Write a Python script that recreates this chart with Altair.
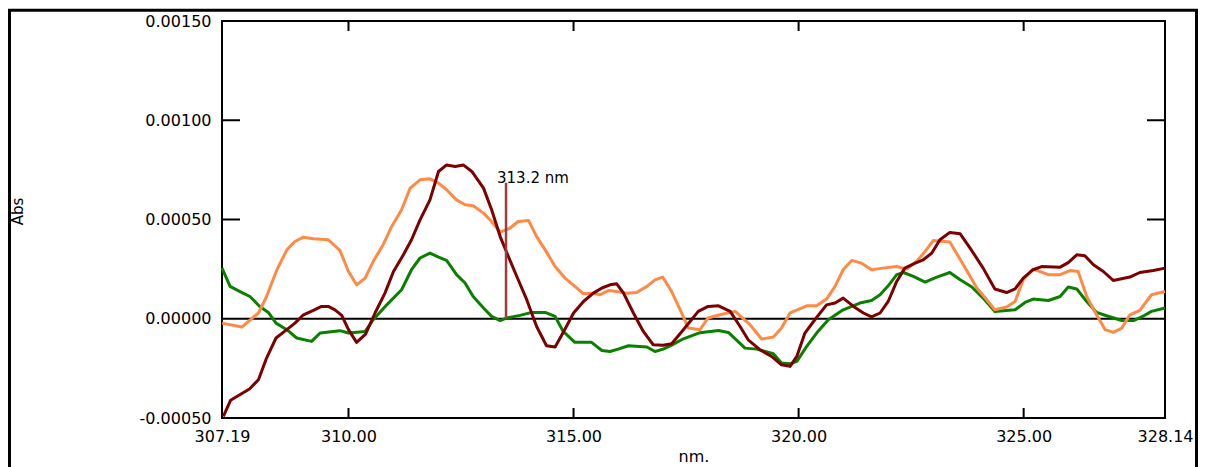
import altair as alt
import pandas as pd

# ---- data ----
maroon_nm = [307.22, 307.38, 307.80, 308.00, 308.18, 308.39, 308.63, 308.81, 309.00, 309.22,
             309.40, 309.55, 309.70, 309.85, 310.00, 310.18, 310.38, 310.59, 310.81, 311.00,
             311.22, 311.40, 311.59, 311.81, 312.00, 312.18, 312.37, 312.55, 312.74, 313.00,
             313.18, 313.37, 313.52, 313.74, 313.96, 314.18, 314.40, 314.59, 314.77, 315.00,
             315.22, 315.44, 315.63, 315.81, 315.96, 316.11, 316.33, 316.55, 316.77, 316.99,
             317.18, 317.44, 317.77, 317.99, 318.22, 318.48, 318.70, 318.88, 319.14, 319.40,
             319.62, 319.81, 319.96, 320.14, 320.36, 320.62, 320.81, 320.99, 321.22, 321.44,
             321.62, 321.81, 321.99, 322.18, 322.36, 322.59, 322.77, 322.96, 323.14, 323.36,
             323.59, 323.81, 324.10, 324.36, 324.62, 324.81, 324.99, 325.21, 325.40, 325.81,
             325.99, 326.18, 326.36, 326.55, 326.77, 326.99, 327.36, 327.58, 327.88, 328.14]
maroon_abs = [-0.000492, -0.000411, -0.000354, -0.000307, -0.000198, -0.000097, -0.000055, -0.000022, 0.000020, 0.000042,
              0.000062, 0.000062, 0.000045, 0.000017, -0.000055, -0.000119, -0.000077, 0.000029, 0.000129, 0.000238,
              0.000322, 0.000398, 0.000498, 0.000599, 0.000742, 0.000775, 0.000767, 0.000775, 0.000742, 0.000658,
              0.000549, 0.000414, 0.000331, 0.000213, 0.000096, -0.000039, -0.000136, -0.000142, -0.000069, 0.000029,
              0.000087, 0.000129, 0.000155, 0.000171, 0.000176, 0.000129, 0.000029, -0.000064, -0.000131, -0.000134,
              -0.000126, -0.000055, 0.000037, 0.000062, 0.000065, 0.000037, -0.000039, -0.000106, -0.000156, -0.000190,
              -0.000232, -0.000240, -0.000190, -0.000072, -0.000005, 0.000070, 0.000079, 0.000104, 0.000062, 0.000029,
              0.000009, 0.000029, 0.000087, 0.000188, 0.000255, 0.000280, 0.000297, 0.000331, 0.000398, 0.000435,
              0.000428, 0.000356, 0.000255, 0.000150, 0.000132, 0.000150, 0.000205, 0.000247, 0.000263, 0.000260,
              0.000283, 0.000322, 0.000317, 0.000272, 0.000238, 0.000193, 0.000210, 0.000233, 0.000243, 0.000255]

orange_nm = [307.19, 307.63, 308.00, 308.18, 308.41, 308.63, 308.81, 309.00, 309.22, 309.55,
             309.81, 310.00, 310.18, 310.37, 310.55, 310.77, 310.96, 311.18, 311.37, 311.59,
             311.81, 312.00, 312.18, 312.40, 312.59, 312.77, 313.00, 313.18, 313.37, 313.59,
             313.77, 314.00, 314.18, 314.37, 314.59, 314.81, 315.03, 315.22, 315.40, 315.59,
             315.77, 315.96, 316.18, 316.40, 316.63, 316.81, 316.98, 317.18, 317.37, 317.55,
             317.81, 317.99, 318.25, 318.59, 318.92, 319.18, 319.44, 319.62, 319.81, 320.18,
             320.40, 320.62, 320.81, 320.99, 321.18, 321.40, 321.62, 321.88, 322.18, 322.40,
             322.62, 322.81, 322.99, 323.36, 323.66, 323.96, 324.18, 324.36, 324.62, 324.81,
             324.99, 325.21, 325.55, 325.81, 326.03, 326.21, 326.40, 326.62, 326.81, 326.99,
             327.18, 327.36, 327.58, 327.84, 328.14]
orange_abs = [-0.000022, -0.000042, 0.000029, 0.000112, 0.000247, 0.000347, 0.000389, 0.000411, 0.000403, 0.000398,
              0.000344, 0.000238, 0.000171, 0.000205, 0.000289, 0.000373, 0.000465, 0.000549, 0.000658, 0.000700,
              0.000705, 0.000683, 0.000650, 0.000599, 0.000574, 0.000569, 0.000532, 0.000490, 0.000436, 0.000457,
              0.000490, 0.000495, 0.000414, 0.000347, 0.000263, 0.000205, 0.000163, 0.000126, 0.000129, 0.000121,
              0.000142, 0.000137, 0.000129, 0.000132, 0.000163, 0.000196, 0.000210, 0.000137, 0.000045, -0.000047,
              -0.000055, 0.000004, 0.000020, 0.000037, -0.000030, -0.000102, -0.000092, -0.000047, 0.000029, 0.000065,
              0.000065, 0.000099, 0.000163, 0.000247, 0.000294, 0.000280, 0.000247, 0.000255, 0.000263, 0.000250,
              0.000289, 0.000339, 0.000394, 0.000387, 0.000272, 0.000155, 0.000096, 0.000045, 0.000059, 0.000087,
              0.000196, 0.000250, 0.000222, 0.000222, 0.000243, 0.000238, 0.000112, 0.000020, -0.000055, -0.000069,
              -0.000047, 0.000020, 0.000042, 0.000121, 0.000137]

green_nm = [307.19, 307.37, 307.59, 307.81, 308.03, 308.22, 308.39, 308.63, 308.85, 309.18,
            309.37, 309.81, 310.00, 310.37, 310.55, 310.85, 311.18, 311.40, 311.59, 311.81,
            312.00, 312.18, 312.40, 312.59, 312.77, 313.00, 313.18, 313.37, 313.52, 313.81,
            314.07, 314.37, 314.59, 314.77, 315.03, 315.40, 315.63, 315.81, 315.99, 316.22,
            316.63, 316.81, 316.99, 317.18, 317.44, 317.81, 318.22, 318.44, 318.81, 319.07,
            319.44, 319.62, 319.81, 319.96, 320.18, 320.40, 320.66, 320.99, 321.36, 321.62,
            321.81, 321.99, 322.18, 322.33, 322.55, 322.81, 323.07, 323.36, 323.59, 323.85,
            324.10, 324.36, 324.81, 325.03, 325.21, 325.55, 325.81, 325.99, 326.18, 326.40,
            326.62, 326.84, 327.18, 327.44, 327.62, 327.84, 328.14]
green_abs = [0.000255, 0.000163, 0.000137, 0.000112, 0.000062, 0.000032, -0.000022, -0.000055, -0.000097, -0.000114,
             -0.000072, -0.000060, -0.000072, -0.000064, -0.000005, 0.000070, 0.000146, 0.000247, 0.000306, 0.000331,
             0.000311, 0.000294, 0.000222, 0.000180, 0.000112, 0.000054, 0.000012, -0.000009, 0.000004, 0.000017,
             0.000032, 0.000032, 0.000012, -0.000064, -0.000119, -0.000119, -0.000160, -0.000165, -0.000153, -0.000136,
             -0.000142, -0.000165, -0.000153, -0.000133, -0.000101, -0.000070, -0.000059, -0.000069, -0.000148, -0.000153,
             -0.000176, -0.000223, -0.000227, -0.000215, -0.000139, -0.000072, -0.000005, 0.000045, 0.000079, 0.000092,
             0.000121, 0.000166, 0.000222, 0.000233, 0.000213, 0.000185, 0.000210, 0.000233, 0.000196, 0.000160,
             0.000104, 0.000037, 0.000045, 0.000082, 0.000099, 0.000092, 0.000112, 0.000160, 0.000150, 0.000087,
             0.000032, 0.000015, -0.000009, -0.000009, 0.000009, 0.000037, 0.000054]

x_tick_labels = [307.19, 310.00, 315.00, 320.00, 325.00, 328.14]
x_inner_ticks = [310.0, 315.0, 320.0, 325.0]
y_tick_labels = [-0.0005, 0.0, 0.0005, 0.0010, 0.0015]
y_inner_ticks = [0.0005, 0.0010]
zero_level = [0.0]
marker_nm = [313.5]
marker_top = [0.000685]
marker_label = ["313.2 nm"]

X_DOMAIN = [307.19, 328.14]
Y_DOMAIN = [-0.0005, 0.0015]
W, H = 943, 397
FONT = "DejaVu Sans"

xscale = alt.Scale(domain=X_DOMAIN, nice=False, zero=False)
yscale = alt.Scale(domain=Y_DOMAIN, nice=False, zero=False)

x_axis = alt.Axis(values=x_tick_labels, format=".2f", ticks=False, tickSize=0, domain=False,
                  grid=False, labelFont=FONT, labelFontSize=16, labelColor="black",
                  labelPadding=10, labelOverlap=False, labelFlush=False,
                  title="nm.", titleFont=FONT, titleFontSize=16, titleFontWeight="normal",
                  titleColor="black", titleY=43, titleBaseline="alphabetic")
y_axis = alt.Axis(values=y_tick_labels, ticks=False, tickSize=0, domain=False, grid=False,
                  labelExpr="datum.value < 0 ? '-' + format(-datum.value, '.5f') : format(datum.value, '.5f')",
                  labelFont=FONT, labelFontSize=16, labelColor="black", labelPadding=11,
                  labelOverlap=False, labelFlush=False,
                  title="Abs", titleFont=FONT, titleFontSize=15, titleFontWeight="normal",
                  titleColor="black", titleX=-205, titleY=190, titleAngle=-90,
                  titleAlign="center", titleBaseline="middle")


def X(field):
    return alt.X(field, type="quantitative", scale=xscale, axis=x_axis)


def Y(field):
    return alt.Y(field, type="quantitative", scale=yscale, axis=y_axis)


def line_layer(nm, ab, color):
    df = pd.DataFrame({"nm": nm, "abs": ab})
    return alt.Chart(df).mark_line(color=color, strokeWidth=3, strokeJoin="round").encode(
        x=X("nm"), y=Y("abs"))


green = line_layer(green_nm, green_abs, "#0a8000")
orange = line_layer(orange_nm, orange_abs, "#ff8a45")
maroon = line_layer(maroon_nm, maroon_abs, "#7d0000")

zero = alt.Chart(pd.DataFrame({"abs": zero_level})).mark_rule(color="black", strokeWidth=2).encode(
    y=Y("abs"))

xt = pd.DataFrame({"nm": x_inner_ticks})
yt = pd.DataFrame({"abs": y_inner_ticks})
tick_bottom = alt.Chart(xt).mark_rule(color="black", strokeWidth=2).encode(
    x=X("nm"), y=alt.value(H), y2=alt.value(H - 10))
tick_top = alt.Chart(xt).mark_rule(color="black", strokeWidth=2).encode(
    x=X("nm"), y=alt.value(0), y2=alt.value(10))
tick_left = alt.Chart(yt).mark_rule(color="black", strokeWidth=2).encode(
    y=Y("abs"), x=alt.value(0), x2=alt.value(18))
tick_right = alt.Chart(yt).mark_rule(color="black", strokeWidth=2).encode(
    y=Y("abs"), x=alt.value(W), x2=alt.value(W - 18))

mk = pd.DataFrame({"nm": marker_nm, "abs": marker_top, "base": zero_level, "label": marker_label})
marker = alt.Chart(mk).mark_rule(color="#9b3d3d", strokeWidth=2.5).encode(
    x=X("nm"), y=Y("abs"), y2="base:Q")
marker_text = alt.Chart(mk).mark_text(align="left", baseline="alphabetic", dx=-9, dy=0,
                                      font=FONT, fontSize=15, color="black").encode(
    x=X("nm"), y=Y("abs"), text="label:N")

frame = alt.Chart(pd.DataFrame({"k": [0]})).mark_rect(
    filled=False, stroke="black", strokeWidth=3).encode(
    x=alt.value(-212.5), x2=alt.value(974.5), y=alt.value(-10.7), y2=alt.value(470))

chart = alt.layer(
    zero, green, orange, maroon, marker, marker_text,
    tick_bottom, tick_top, tick_left, tick_right, frame
).properties(
    width=W, height=H,
    autosize=alt.AutoSizeParams(type="none"),
    padding={"left": 214, "top": 13, "right": 33, "bottom": 60},
).configure(background="white").configure_view(stroke="black", strokeWidth=2)

chart.save("out.html", embed_options={"renderer": "svg", "actions": False})
